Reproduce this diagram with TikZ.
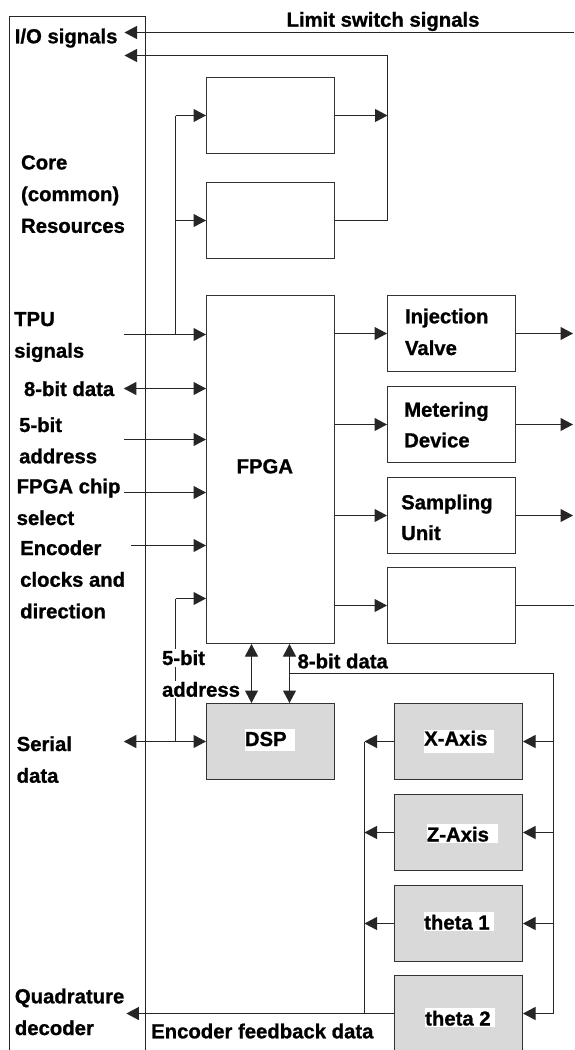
\documentclass[tikz,border=0pt]{standalone}
\usepackage{fontspec}
\setmainfont{Liberation Sans}[BoldFeatures={FakeBold=1}]
\usetikzlibrary{arrows.meta}
\begin{document}
\begin{tikzpicture}[x=1pt,y=-1pt,
  ln/.style={draw=black!85, line width=1pt},
  arr/.style={ln, -{Triangle[length=12.5pt,width=13pt]}},
  darr/.style={ln, {Triangle[length=12.5pt,width=13pt]}-{Triangle[length=12.5pt,width=13pt]}},
  blk/.style={rectangle, draw=black!80, line width=1pt, minimum width=128pt, inner sep=0pt},
  gblk/.style={blk, fill=black!15},
  lbl/.style={font=\bfseries\fontsize{20.3}{24}\selectfont, inner sep=0pt, anchor=base west},
  hl/.style={lbl, fill=white},
  wl/.style={lbl, fill=white, inner sep=1.5pt},
]
\useasboundingbox (0,0) rectangle (574,1050);
\clip (0,0) rectangle (574,1050);
\fill[white] (0,0) rectangle (574,1050);

% frame of core resources
\draw[ln] (9.5,1060) -- (9.5,16.5) -- (145.5,16.5) -- (145.5,1060);

% blocks
\node[blk, minimum height=76pt] (b1) at (270.5,115.5) {};
\node[blk, minimum height=76pt] (b2) at (270.5,220.5) {};
\node[blk, minimum height=348pt] (fpga) at (270.5,469.5) {};
\node[blk, minimum height=76pt] (inj) at (451.5,333.5) {};
\node[blk, minimum height=76pt] (met) at (451.5,424.5) {};
\node[blk, minimum height=76pt] (samp) at (451.5,515.5) {};
\node[blk, minimum height=76pt] (blank) at (451.5,605.5) {};
\node[gblk, minimum height=76pt] (dsp) at (270.5,741.5) {};
\node[gblk, minimum height=76pt] (xax) at (458.5,741.5) {};
\node[gblk, minimum height=76pt] (zax) at (458.5,832.5) {};
\node[gblk, minimum height=76pt] (th1) at (458.5,923.5) {};
\node[gblk, minimum height=76pt] (th2) at (458.5,1013.5) {};

% coordinates
\coordinate (limR) at (574,32.5);
\coordinate (ioA) at (124.5,32.5);
\coordinate (ioB) at (124.5,55.5);
\coordinate (fbR) at (387.5,55.5);
\coordinate (vtop) at (175.5,115.5);
\coordinate (tpuL) at (123.8,334.5);
\coordinate (d8L) at (123.8,388.5);
\coordinate (a5L) at (123.8,439.5);
\coordinate (csL) at (123.8,492.5);
\coordinate (encL) at (131,545.5);
\coordinate (vlow) at (175.5,598.5);
\coordinate (serL) at (123.8,741.5);
\coordinate (outA) at (573,0);
\coordinate (outB) at (574,0);
\coordinate (c1) at (251.5,0);
\coordinate (c2) at (289.5,673.5);
\coordinate (busR) at (553.5,673.5);
\coordinate (colL) at (364.5,741.5);
\coordinate (quadL) at (126.4,1013.5);

% top connectors
\draw[arr] (limR) -- (ioA);
\draw[arr] (b2.east) -| (fbR) -- (ioB);
\draw[arr] (b1.east) -- (b1.east -| fbR);
\draw[ln] (vtop) -- (vtop |- tpuL);
\draw[arr] (vtop) -- (b1.west);
\draw[arr] (vtop |- b2) -- (b2.west);

% inputs to FPGA
\draw[arr] (tpuL) -- (fpga.west |- tpuL);
\draw[darr] (d8L) -- (fpga.west |- d8L);
\draw[arr] (a5L) -- (fpga.west |- a5L);
\draw[arr] (csL) -- (fpga.west |- csL);
\draw[arr] (encL) -- (fpga.west |- encL);
\draw[arr] (vlow) -- (fpga.west |- vlow);
\draw[ln] (vlow) -- (vlow |- dsp);
\draw[darr] (serL) -- (dsp.west);

% outputs of FPGA
\draw[arr] (fpga.east |- inj) -- (inj.west);
\draw[arr] (fpga.east |- met) -- (met.west);
\draw[arr] (fpga.east |- samp) -- (samp.west);
\draw[arr] (fpga.east |- blank) -- (blank.west);
\draw[arr] (inj.east) -- (inj.east -| outA);
\draw[arr] (met.east) -- (met.east -| outA);
\draw[arr] (samp.east) -- (samp.east -| outA);
\draw[ln] (blank.east) -- (blank.east -| outB);

% FPGA - DSP
\draw[darr] (fpga.south -| c1) -- (dsp.north -| c1);
\draw[darr] (fpga.south -| c2) -- (dsp.north -| c2);
\draw[ln] (c2) -- (busR) -- (busR |- th2);
\draw[arr] (busR |- xax) -- (xax.east);
\draw[arr] (busR |- zax) -- (zax.east);
\draw[arr] (busR |- th1) -- (th1.east);
\draw[arr] (busR |- th2) -- (th2.east);

% encoder feedback
\draw[arr] (xax.west) -- (colL);
\draw[arr] (zax.west) -- (zax.west -| colL);
\draw[arr] (th1.west) -- (th1.west -| colL);
\draw[ln] (colL) -- (colL |- th2);
\draw[arr] (th2.west) -- (quadL);

% labels
\node[lbl, anchor=base] (tlim) at (383,26.7) {Limit switch signals};
\node[lbl] (tio) at (14.6,43.3) {I/O signals};
\node[lbl] (tcore1) at (20.9,169.4) {Core};
\node[lbl] (tcore2) at (20.9,201.1) {(common)};
\node[lbl] (tcore3) at (20.9,232.8) {Resources};
\node[lbl] (ttpu1) at (14,326) {TPU};
\node[lbl] (ttpu2) at (14,357.7) {signals};
\node[lbl] (td8) at (23.8,396) {8-bit data};
\node[lbl] (ta51) at (19,432) {5-bit};
\node[lbl] (ta52) at (19,463.3) {address};
\node[lbl] (tcs1) at (16.5,493.3) {FPGA chip};
\node[lbl] (tcs2) at (16.5,525) {select};
\node[lbl] (tenc1) at (20,555) {Encoder};
\node[lbl] (tenc2) at (20,586.7) {clocks and};
\node[lbl] (tenc3) at (20,618.3) {direction};
\node[lbl, anchor=base] (tfpga) at (264.8,473.3) {FPGA};
\node[lbl] (tinj1) at (404.8,323.3) {Injection};
\node[lbl] (tinj2) at (404.8,355) {Valve};
\node[lbl] (tmet1) at (404,416.7) {Metering};
\node[lbl] (tmet2) at (404,447.3) {Device};
\node[lbl] (tsam1) at (401,509.3) {Sampling};
\node[lbl] (tsam2) at (401,540) {Unit};
\node[wl] (tb51) at (160.4,665) {5-bit};
\node[wl] (tb52) at (160.4,696.7) {address};
\node[lbl] (tb8) at (297.4,668.3) {8-bit data};
\node[hl, text height=16.7pt, text depth=4.7pt] (tdsp) at (244.7,746) {\makebox[50.2pt][l]{DSP}};
\node[hl, text height=15.5pt, text depth=7.2pt] (txax) at (424,745.5) {\makebox[70pt][l]{X-Axis}};
\node[hl, text height=17.5pt, text depth=1.2pt] (tzax) at (426.7,841.5) {\makebox[70.6pt][l]{Z-Axis}};
\node[hl, text height=17.8pt, text depth=1.2pt] (tth1) at (424,929.5) {\makebox[69.3pt][l]{theta 1}};
\node[hl, text height=17.2pt, text depth=1.2pt] (tth2) at (425,1025.5) {\makebox[70pt][l]{theta 2}};
\node[lbl] (tser1) at (16.5,751) {Serial};
\node[lbl] (tser2) at (16.5,782.7) {data};
\node[lbl] (tq1) at (14.7,1003.3) {Quadrature};
\node[lbl] (tq2) at (14.7,1035) {decoder};
\node[lbl] (tfb) at (151,1038.3) {Encoder feedback data};
\end{tikzpicture}
\end{document}
